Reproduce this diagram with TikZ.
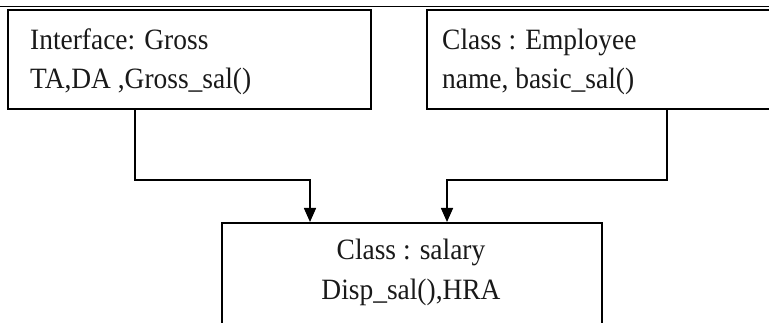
\documentclass[tikz,border=0pt]{standalone}
\usepackage{fontspec}
\setmainfont{Liberation Serif}[FakeStretch=0.93]
\usetikzlibrary{arrows.meta,calc}
\begin{document}
\begin{tikzpicture}[x=1pt,y=-1pt,
  box/.style={draw=black,line width=2pt,rectangle,inner sep=0pt,anchor=north west},
  lbl/.style={font=\fontsize{29.5}{39}\selectfont,inner sep=0pt,text=black!90},
  conn/.style={draw=black,line width=1.6pt,-{Triangle[length=14pt,width=12pt]}},
  topline/.style={draw=black,line width=1.5pt}
]
\useasboundingbox (0,0) rectangle (769,323);
\clip (0,0) rectangle (769,323);
% top rule of the page
\draw[topline] (0,6.5) -- (769,6.5);
% boxes
\node[box,minimum width=363pt,minimum height=99pt] (gross) at (7,9.5) {};
\node[box,minimum width=400pt,minimum height=99pt] (emp) at (426,9.5) {};
\node[box,minimum width=380pt,minimum height=101.5pt] (sal) at (221,222) {};
% texts
\node[lbl,anchor=base west] (g1) at (30,50) {Interface: Gross};
\node[lbl,anchor=base west] (g2) at (30,89) {TA,DA ,Gross\_sal()};
\node[lbl,anchor=base west] (e1) at (442,50) {Class : Employee};
\node[lbl,anchor=base west] (e2) at (442,89) {name, basic\_sal()};
\node[lbl,anchor=base] (s1) at (411,260) {Class : salary};
\node[lbl,anchor=base] (s2) at (411,300) {Disp\_sal(),HRA};
% connectors
\draw[conn] ([xshift=128pt]gross.south west) |- ($(sal.north west)+(89,-42)$) -- ([xshift=89pt]sal.north west);
\draw[conn] ([xshift=241pt]emp.south west) |- ($(sal.north west)+(226,-42)$) -- ([xshift=226pt]sal.north west);
\end{tikzpicture}
\end{document}
